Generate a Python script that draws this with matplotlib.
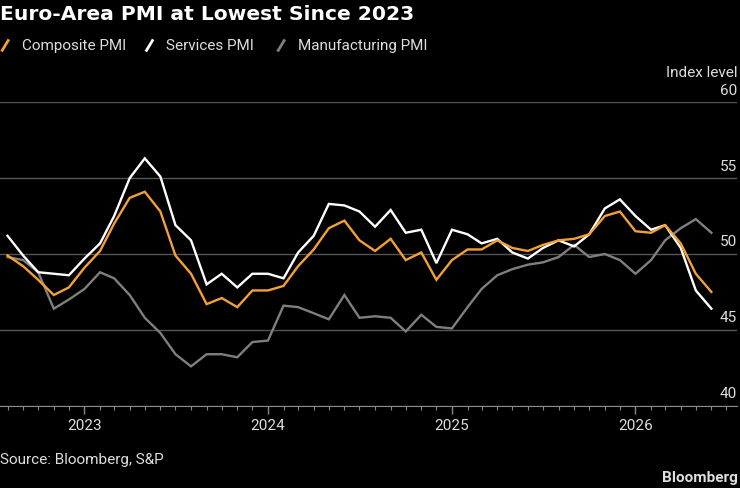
import numpy as np
import pandas as pd
import matplotlib
matplotlib.use('Agg')
import matplotlib.pyplot as plt
import matplotlib.dates as mdates
from matplotlib.lines import Line2D

# monthly readings, Aug 2022 .. Jun 2026
months = pd.date_range('2022-08-01', periods=47, freq='MS')

composite = [49.9, 49.2, 48.3, 47.3, 47.8, 49.1, 50.2, 52.0, 53.7, 54.1,
             52.8, 49.9, 48.7, 46.7, 47.1, 46.5, 47.6, 47.6, 47.9, 49.2,
             50.3, 51.7, 52.2, 50.9, 50.2, 51.0, 49.6, 50.1, 48.3, 49.6,
             50.3, 50.3, 50.9, 50.4, 50.2, 50.6, 50.9, 51.0, 51.3, 52.5,
             52.8, 51.5, 51.4, 51.9, 50.7, 48.7, 47.5]
services = [51.2, 49.9, 48.8, 48.7, 48.6, 49.7, 50.7, 52.5, 55.0, 56.3,
            55.1, 51.9, 50.9, 48.0, 48.7, 47.8, 48.7, 48.7, 48.4, 50.1,
            51.2, 53.3, 53.2, 52.8, 51.8, 52.9, 51.4, 51.6, 49.4, 51.6,
            51.3, 50.7, 51.0, 50.1, 49.7, 50.4, 50.9, 50.5, 51.3, 53.0,
            53.6, 52.5, 51.6, 51.9, 50.4, 47.6, 46.4]
manufacturing = [49.8, 49.6, 48.8, 46.4, 47.0, 47.7, 48.8, 48.4, 47.3, 45.8,
                 44.8, 43.4, 42.6, 43.4, 43.4, 43.2, 44.2, 44.3, 46.6, 46.5,
                 46.1, 45.7, 47.3, 45.8, 45.9, 45.8, 44.9, 46.0, 45.2, 45.1,
                 46.5, 47.7, 48.6, 49.0, 49.3, 49.45, 49.8, 50.6, 49.8, 50.0,
                 49.6, 48.7, 49.6, 50.9, 51.7, 52.3, 51.4]

series_names = ['Composite PMI', 'Services PMI', 'Manufacturing PMI']
yticks = [40, 45, 50, 55, 60]

orange = '#f5a033'
white = '#ffffff'
grey = '#7f7f7f'
gridc = '#555555'

plt.rcParams['font.family'] = ['Roboto', 'DejaVu Sans']

fig = plt.figure(figsize=(7.4, 4.89), dpi=100, facecolor='black')
ax = fig.add_axes([0.0, 0.168, 0.996, 0.621], facecolor='black')

ax.plot(months, manufacturing, color=grey, lw=1.7, solid_joinstyle='miter')
ax.plot(months, services, color=white, lw=1.7, solid_joinstyle='miter')
ax.plot(months, composite, color=orange, lw=1.7, solid_joinstyle='miter')

ax.set_ylim(40, 60)
ax.set_xlim(pd.Timestamp('2022-07-17'), pd.Timestamp('2026-07-22'))
ax.set_yticks(yticks)
ax.yaxis.grid(True, color=gridc, lw=1)
ax.set_axisbelow(True)
ax.tick_params(axis='y', left=False, labelleft=False)

ax.xaxis.set_major_locator(mdates.YearLocator())
ax.xaxis.set_major_formatter(mdates.DateFormatter('%Y'))
ax.xaxis.set_minor_locator(mdates.MonthLocator())
ax.tick_params(axis='x', which='major', length=6, width=1, color='#888888',
               labelcolor='#dddddd', labelsize=11, pad=3)
ax.tick_params(axis='x', which='minor', length=3, width=0.8, color='#888888')

for s in ['top', 'left', 'right']:
    ax.spines[s].set_visible(False)
ax.spines['bottom'].set_color('#888888')

for v in yticks:
    ax.annotate(str(v), xy=(1, v), xycoords=('axes fraction', 'data'),
                xytext=(0, 4), textcoords='offset points', ha='right', va='bottom',
                color='#dddddd', fontsize=11)
ax.annotate('Index level', xy=(1, 60), xycoords=('axes fraction', 'data'),
            xytext=(0, 16.5), textcoords='offset points', ha='right', va='bottom',
            color='#dddddd', fontsize=11)

fig.text(0.0, 0.971, 'Euro-Area PMI at Lowest Since 2023', color='white',
         fontsize=14.6, fontweight='bold', family='DejaVu Sans', va='center', ha='left')

# legend: slash markers
leg_x = [0.003, 0.198, 0.376]
leg_c = [orange, white, grey]
for x0, c, name in zip(leg_x, leg_c, series_names):
    fig.add_artist(Line2D([x0, x0 + 0.008], [0.895, 0.915], color=c, lw=2,
                          transform=fig.transFigure))
    fig.text(x0 + 0.027, 0.905, name, color='#dddddd', fontsize=11, va='center')

fig.text(0.0, 0.06, 'Source: Bloomberg, S&P', color='#dddddd', fontsize=11, va='center')
fig.text(0.997, 0.022, 'Bloomberg', color='#dddddd', fontsize=11, fontweight='bold',
         va='center', ha='right')

fig.savefig('out.png', dpi=100, facecolor='black')
